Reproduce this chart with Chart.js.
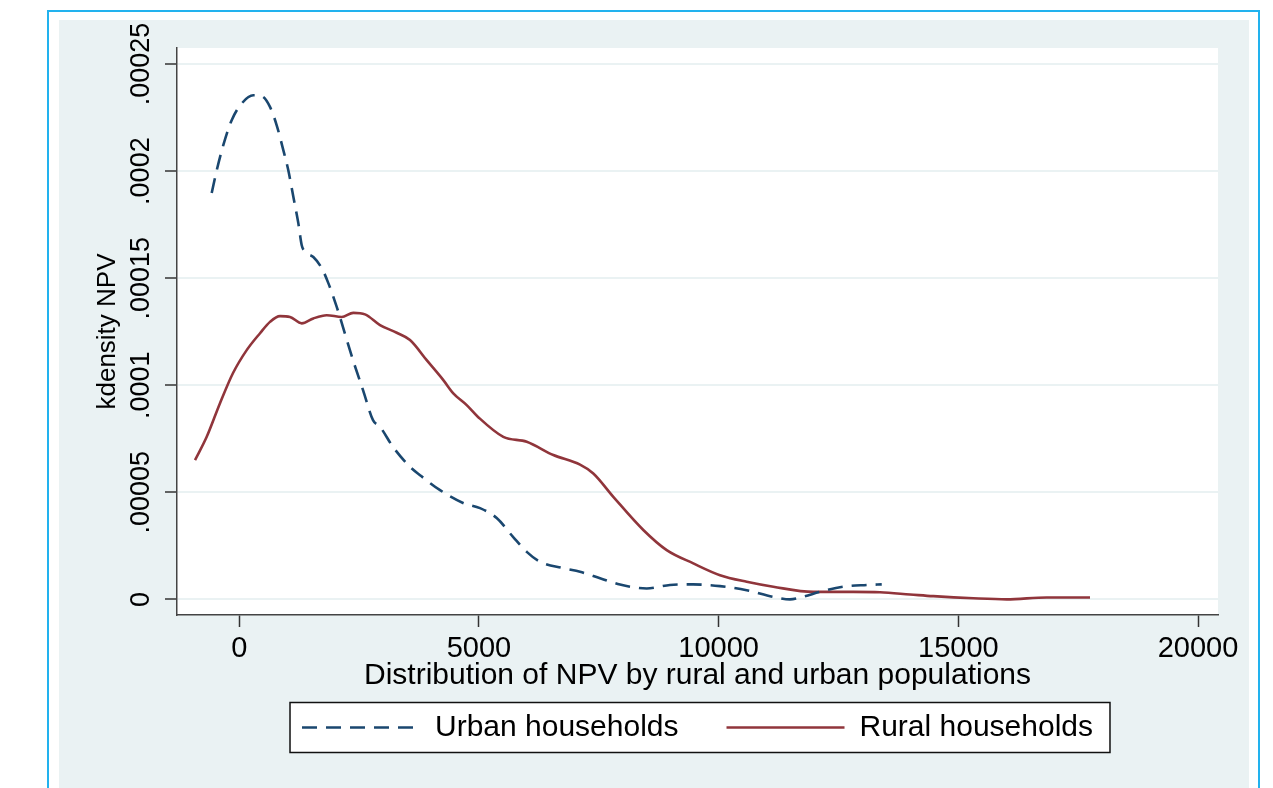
<!DOCTYPE html>
<html>
<head>
<meta charset="utf-8">
<script src="https://cdn.jsdelivr.net/npm/chart.js@4.4.1/dist/chart.umd.min.js"></script>
<style>
  html, body { margin: 0; padding: 0; background: #fff; }
  #wrap { width: 1273px; height: 788px; }
</style>
</head>
<body>
<div id="wrap"><canvas id="densityChart"></canvas></div>
<script>
// NPV values (x) and kernel density estimates (y)
const urbanX = [-576, -471, -334, -159, 50, 292, 467, 640, 780, 918, 1022, 1127, 1231, 1302, 1371, 1544,
  1719, 1857, 2032, 2372, 2581, 2789, 2935, 3206, 3561, 3770, 4188, 4667, 5022, 5370, 5710, 5996, 6273,
  6753, 7108, 7525, 7942, 8499, 8983, 9465, 10028, 10585, 11134, 11488, 11760, 12114, 12594, 13089, 13402];
const urbanY = [0.0001898, 0.0002004, 0.0002121, 0.0002238, 0.0002316, 0.0002354, 0.000235, 0.00023,
  0.0002214, 0.0002098, 0.0002004, 0.000188, 0.0001757, 0.0001654, 0.0001623, 0.0001599, 0.0001547,
  0.0001477, 0.0001366, 0.0001117, 0.0000977, 0.0000837, 0.0000806, 0.0000712, 0.0000619, 0.000058,
  0.000051, 0.000045, 0.0000426, 0.000038, 0.0000292, 0.0000222, 0.0000176, 0.0000146, 0.0000129,
  0.0000099, 0.0000069, 0.0000051, 0.0000067, 0.000007, 0.0000062, 0.0000043, 0.0000012, 0.0000000,
  0.0000012, 0.0000035, 0.0000059, 0.0000067, 0.000007];

const ruralX = [-924, -680, -403, -131, 154, 432, 640, 849, 1058, 1302, 1544, 1823, 2136, 2378, 2622, 2935,
  3284, 3561, 3909, 4256, 4464, 4744, 4980, 5507, 5996, 6551, 7108, 7385, 7802, 8428, 8916, 9471, 10028,
  10585, 11140, 11974, 12809, 13366, 13992, 14478, 15312, 16009, 16843, 17747];
const ruralY = [0.000065, 0.0000759, 0.0000916, 0.0001057, 0.0001164, 0.0001243, 0.0001296, 0.0001323,
  0.0001319, 0.0001289, 0.0001312, 0.0001327, 0.0001319, 0.0001338, 0.0001331, 0.0001281, 0.0001245,
  0.0001211, 0.0001117, 0.0001024, 0.0000962, 0.0000907, 0.0000852, 0.0000759, 0.0000736, 0.0000674,
  0.0000629, 0.0000588, 0.0000479, 0.0000324, 0.000023, 0.0000168, 0.0000113, 0.0000082, 0.0000059,
  0.0000035, 0.0000035, 0.0000033, 0.0000023, 0.0000015, 0.0000005, 0.0000000, 0.0000009, 0.0000009];

const seriesNames = ['Urban households', 'Rural households'];
const xTicks = [0, 5000, 10000, 15000, 20000];
const yTicks = [0, 0.00005, 0.0001, 0.00015, 0.0002, 0.00025];
const yTickLabels = ['0', '.00005', '.0001', '.00015', '.0002', '.00025'];

const FONT = 'Liberation Sans, Arial, sans-serif';
Chart.defaults.font.family = FONT;
Chart.defaults.color = '#000';

const toPoints = (xs, ys) => xs.map((x, i) => ({ x: x, y: ys[i] }));

// stata-like page: blue frame, grey graph region, white plot region, boxed legend
const stataBackground = {
  id: 'stataBackground',
  beforeDraw(chart) {
    const { ctx, chartArea, width, height } = chart;
    ctx.save();
    ctx.fillStyle = '#ffffff';
    ctx.fillRect(0, 0, width, height);
    ctx.strokeStyle = '#22b2ee';
    ctx.lineWidth = 2;
    ctx.strokeRect(48, 11, 1211, height + 10);
    ctx.fillStyle = '#eaf2f3';
    ctx.fillRect(59, 20, 1190, height - 20);
    ctx.fillStyle = '#ffffff';
    ctx.fillRect(chartArea.left, chartArea.top, chartArea.right - chartArea.left, chartArea.bottom - chartArea.top);

    const boxes = chart.legend.legendHitBoxes;
    if (boxes && boxes.length) {
      const first = boxes[0];
      const last = boxes[boxes.length - 1];
      const left = first.left - 12;
      const right = last.left + last.width + 17;
      const top = first.top - 10;
      const bottom = first.top + first.height + 10;
      ctx.fillStyle = '#ffffff';
      ctx.fillRect(left, top, right - left, bottom - top);
      ctx.strokeStyle = '#111';
      ctx.lineWidth = 1.5;
      ctx.strokeRect(left, top, right - left, bottom - top);
    }
    ctx.restore();
  }
};

const ctx = document.getElementById('densityChart').getContext('2d');

const densityChart = new Chart(ctx, {
  type: 'line',
  data: {
    datasets: [
      {
        label: seriesNames[0],
        data: toPoints(urbanX, urbanY),
        borderColor: '#1a476f',
        backgroundColor: '#1a476f',
        borderWidth: 2.6,
        borderDash: [15, 9],
        pointRadius: 0,
        fill: false,
        cubicInterpolationMode: 'monotone',
      },
      {
        label: seriesNames[1],
        data: toPoints(ruralX, ruralY),
        borderColor: '#90353b',
        backgroundColor: '#90353b',
        borderWidth: 2.6,
        pointRadius: 0,
        fill: false,
        cubicInterpolationMode: 'monotone',
      },
    ],
  },
  options: {
    responsive: true,
    maintainAspectRatio: false,
    animation: false,
    devicePixelRatio: 1,
    layout: {
      autoPadding: false,
      padding: { left: 60, top: 48, right: 55, bottom: 35.5 },
    },
    scales: {
      x: {
        type: 'linear',
        min: -1300,
        max: 20417,
        afterBuildTicks: (scale) => { scale.ticks = xTicks.map(v => ({ value: v })); },
        afterFit: (scale) => { scale.height = 49.5; },
        ticks: {
          autoSkip: false,
          maxRotation: 0,
          padding: 5,
          color: '#000',
          font: { size: 29 },
          callback: (value) => String(value),
        },
        grid: {
          drawOnChartArea: false,
          drawTicks: true,
          tickLength: 12,
          tickColor: '#333',
          tickWidth: 1.5,
        },
        border: { display: true, color: '#444', width: 1.5 },
        title: {
          display: true,
          text: 'Distribution of NPV by rural and urban populations',
          color: '#000',
          font: { size: 30 },
          padding: { top: 0, bottom: -29 },
        },
      },
      y: {
        type: 'linear',
        min: -0.0000073,
        max: 0.0002575,
        afterBuildTicks: (scale) => { scale.ticks = yTicks.map(v => ({ value: v })); },
        afterFit: (scale) => { scale.width = 117; },
        ticks: {
          autoSkip: false,
          minRotation: 90,
          maxRotation: 90,
          crossAlign: 'center',
          padding: -18,
          color: '#000',
          font: { size: 27 },
          callback: (value) => yTickLabels[yTicks.indexOf(value)],
        },
        grid: {
          color: '#eaf2f3',
          lineWidth: 2,
          drawTicks: true,
          tickLength: 12,
          tickColor: '#333',
          tickWidth: 1.5,
        },
        border: { display: true, color: '#444', width: 1.5 },
        title: {
          display: true,
          text: 'kdensity NPV',
          color: '#000',
          font: { size: 26 },
          padding: { top: 32.4, bottom: 0 },
        },
      },
    },
    plugins: {
      legend: {
        position: 'bottom',
        fullSize: false,
        labels: {
          usePointStyle: true,
          pointStyle: 'line',
          pointStyleWidth: 118,
          padding: 48,
          color: '#000',
          font: { size: 30 },
          // point-style items lose the dataset dash, so copy it back
          generateLabels: (chart) => Chart.defaults.plugins.legend.labels.generateLabels(chart).map((item) => {
            const ds = chart.data.datasets[item.datasetIndex];
            item.lineDash = ds.borderDash || [];
            item.lineWidth = ds.borderWidth;
            item.strokeStyle = ds.borderColor;
            return item;
          }),
        },
      },
      tooltip: { enabled: false },
    },
  },
  plugins: [stataBackground],
});
</script>
</body>
</html>
